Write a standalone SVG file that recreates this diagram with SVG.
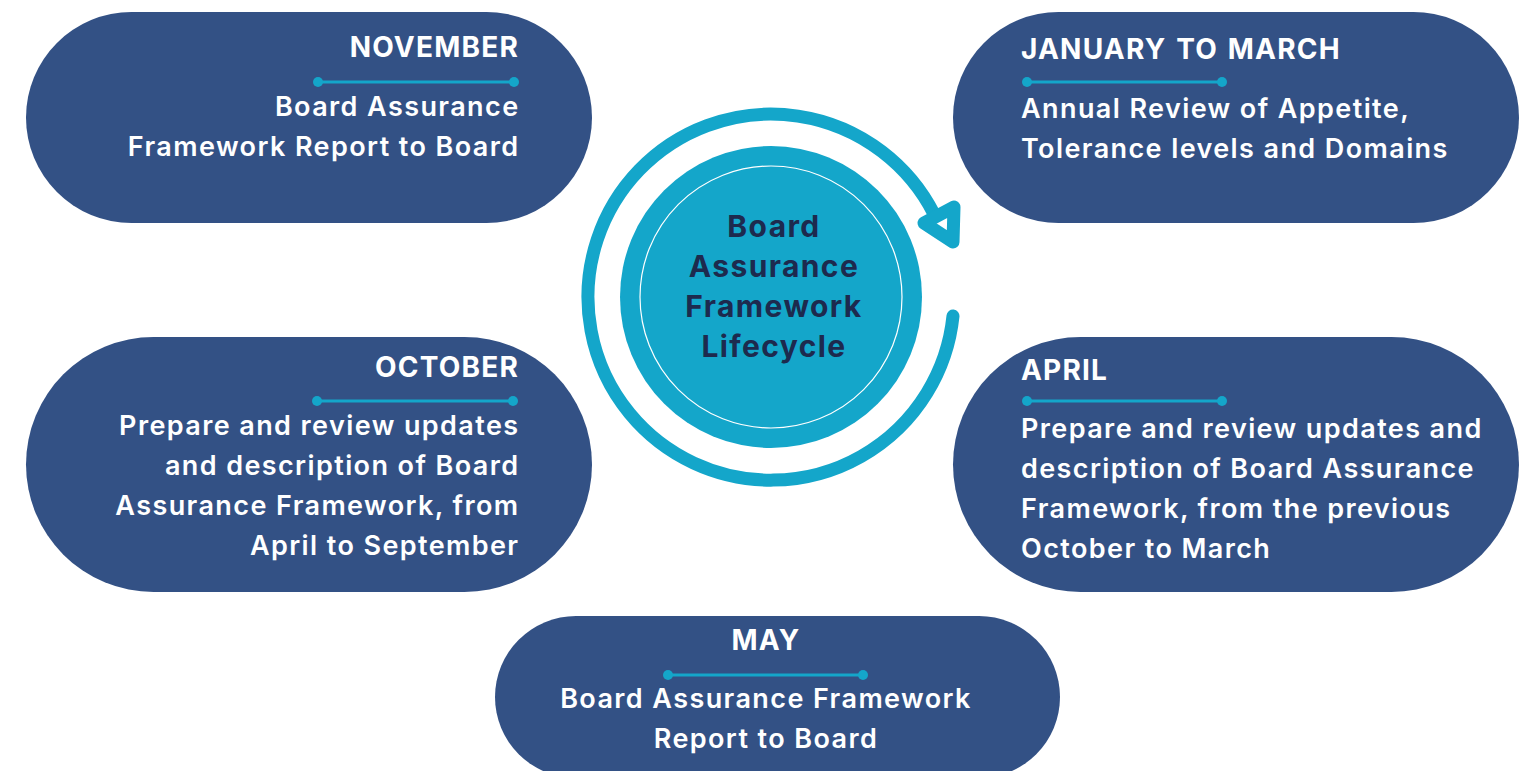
<svg xmlns="http://www.w3.org/2000/svg" width="1531" height="771" viewBox="0 0 1531 771">
  <style>
    .pill { fill: #335185; }
    .title { font-family: Inter, "Noto Sans", "Liberation Sans", sans-serif; font-weight: 700; font-size: 28px; letter-spacing: 1.2px; word-spacing: 2px; fill: #ffffff; }
    .body { font-family: Inter, "Noto Sans", "Liberation Sans", sans-serif; font-weight: 600; font-size: 27px; letter-spacing: 1.4px; fill: #ffffff; }
    .rule { stroke: #14a6ca; stroke-width: 3; }
    .dot { fill: #14a6ca; }
    .hub-text { font-family: Inter, "Noto Sans", "Liberation Sans", sans-serif; font-weight: 700; font-size: 30px; letter-spacing: 1.4px; fill: #1d2a4e; text-anchor: middle; }
    .end { text-anchor: end; }
    .mid { text-anchor: middle; }
  </style>
  <rect width="1531" height="771" fill="#ffffff"/>

  <!-- cycle ring with arrowhead -->
  <g id="connectors">
    <path d="M 953 316 A 183 183 0 1 1 934 214" fill="none" stroke="#14a6ca" stroke-width="13" stroke-linecap="round"/>
    <polygon points="924,223 954,207 953,242" fill="#ffffff" stroke="#14a6ca" stroke-width="13" stroke-linejoin="round"/>
  </g>

  <!-- centre hub -->
  <g id="hub">
    <circle cx="771" cy="297" r="151" fill="#14a6ca"/>
    <circle cx="771" cy="297" r="131" fill="none" stroke="#ffffff" stroke-width="1.2"/>
    <text class="hub-text" x="774" y="237">Board</text>
    <text class="hub-text" x="774" y="277">Assurance</text>
    <text class="hub-text" x="774" y="317">Framework</text>
    <text class="hub-text" x="774" y="357">Lifecycle</text>
  </g>

  <g id="november">
    <rect class="pill" x="26" y="12" width="566" height="211" rx="105.5"/>
    <text class="title end" x="519" y="57">NOVEMBER</text>
    <line class="rule" x1="318" y1="82" x2="514" y2="82"/>
    <circle class="dot" cx="318" cy="82" r="5"/>
    <circle class="dot" cx="514" cy="82" r="5"/>
    <text class="body end" x="519.5" y="116">Board Assurance</text>
    <text class="body end" x="519.5" y="156">Framework Report to Board</text>
  </g>

  <g id="january-march">
    <rect class="pill" x="953" y="12" width="566" height="211" rx="105.5"/>
    <text class="title" x="1021" y="59">JANUARY TO MARCH</text>
    <line class="rule" x1="1027" y1="82" x2="1222" y2="82"/>
    <circle class="dot" cx="1027" cy="82" r="5"/>
    <circle class="dot" cx="1222" cy="82" r="5"/>
    <text class="body" x="1021" y="118">Annual Review of Appetite,</text>
    <text class="body" x="1021" y="158">Tolerance levels and Domains</text>
  </g>

  <g id="october">
    <rect class="pill" x="26" y="337" width="566" height="255" rx="127.5"/>
    <text class="title end" x="519" y="377">OCTOBER</text>
    <line class="rule" x1="317" y1="401" x2="513" y2="401"/>
    <circle class="dot" cx="317" cy="401" r="5"/>
    <circle class="dot" cx="513" cy="401" r="5"/>
    <text class="body end" x="519.5" y="435">Prepare and review updates</text>
    <text class="body end" x="519.5" y="475">and description of Board</text>
    <text class="body end" x="519.5" y="515">Assurance Framework, from</text>
    <text class="body end" x="519.5" y="555">April to September</text>
  </g>

  <g id="april">
    <rect class="pill" x="953" y="337" width="566" height="255" rx="127.5"/>
    <text class="title" x="1021" y="380">APRIL</text>
    <line class="rule" x1="1027" y1="401" x2="1222" y2="401"/>
    <circle class="dot" cx="1027" cy="401" r="5"/>
    <circle class="dot" cx="1222" cy="401" r="5"/>
    <text class="body" x="1021" y="438">Prepare and review updates and</text>
    <text class="body" x="1021" y="478">description of Board Assurance</text>
    <text class="body" x="1021" y="518">Framework, from the previous</text>
    <text class="body" x="1021" y="558">October to March</text>
  </g>

  <g id="may">
    <rect class="pill" x="495" y="616" width="565" height="162" rx="81"/>
    <text class="title mid" x="766" y="650">MAY</text>
    <line class="rule" x1="668" y1="675" x2="863" y2="675"/>
    <circle class="dot" cx="668" cy="675" r="5"/>
    <circle class="dot" cx="863" cy="675" r="5"/>
    <text class="body mid" x="766" y="708">Board Assurance Framework</text>
    <text class="body mid" x="766" y="748">Report to Board</text>
  </g>
</svg>
